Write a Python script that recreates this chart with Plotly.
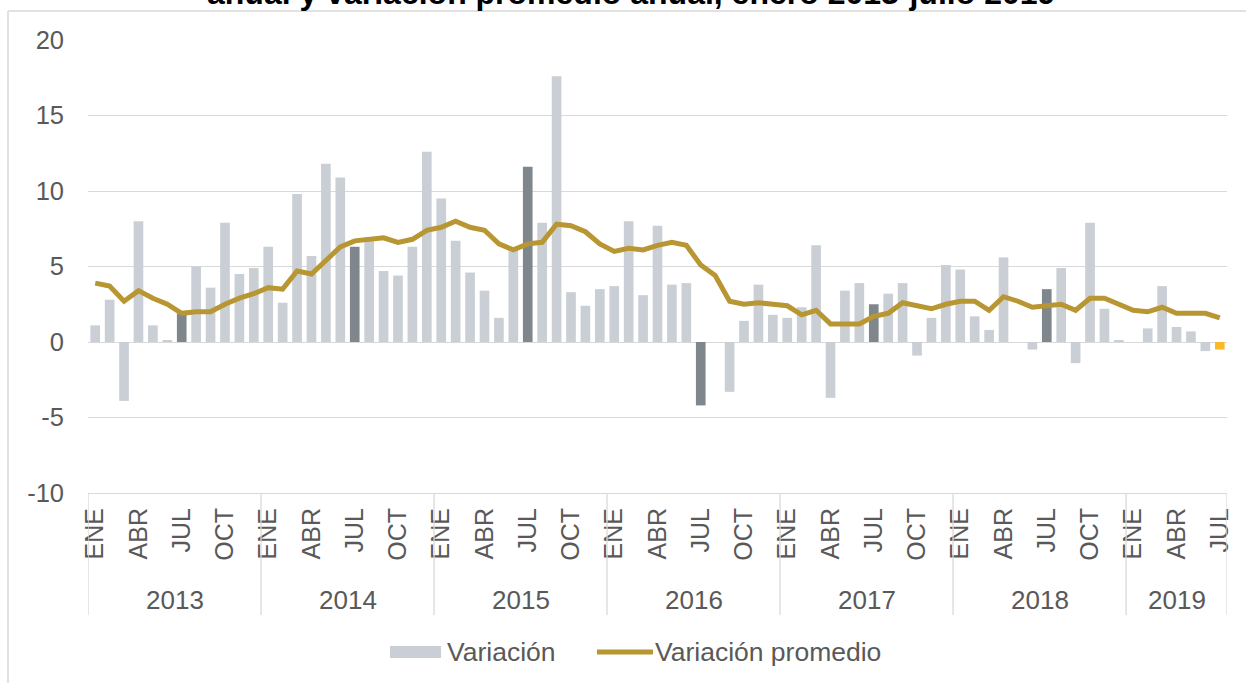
import plotly.graph_objects as go

# ---------------- data ----------------
years = ["2013", "2014", "2015", "2016", "2017", "2018", "2019"]
month_names = ["ENE", "FEB", "MAR", "ABR", "MAY", "JUN", "JUL", "AGO", "SEP", "OCT", "NOV", "DIC"]
months_per_year = [12, 12, 12, 12, 12, 12, 7]

variacion = [
    1.1, 2.8, -3.9, 8.0, 1.1, 0.1, 1.9, 5.0, 3.6, 7.9, 4.5, 4.9,      # 2013
    6.3, 2.6, 9.8, 5.7, 11.8, 10.9, 6.3, 6.7, 4.7, 4.4, 6.3, 12.6,    # 2014
    9.5, 6.7, 4.6, 3.4, 1.6, 6.1, 11.6, 7.9, 17.6, 3.3, 2.4, 3.5,     # 2015
    3.7, 8.0, 3.1, 7.7, 3.8, 3.9, -4.2, 0.0, -3.3, 1.4, 3.8, 1.8,     # 2016
    1.6, 2.3, 6.4, -3.7, 3.4, 3.9, 2.5, 3.2, 3.9, -0.9, 1.6, 5.1,     # 2017
    4.8, 1.7, 0.8, 5.6, 0.0, -0.5, 3.5, 4.9, -1.4, 7.9, 2.2, 0.1,     # 2018
    0.0, 0.9, 3.7, 1.0, 0.7, -0.6, -0.5,                              # 2019
]

variacion_promedio = [
    3.9, 3.7, 2.7, 3.4, 2.9, 2.5, 1.9, 2.0, 2.0, 2.5, 2.9, 3.2,
    3.6, 3.5, 4.7, 4.5, 5.4, 6.3, 6.7, 6.8, 6.9, 6.6, 6.8, 7.4,
    7.6, 8.0, 7.6, 7.4, 6.5, 6.1, 6.5, 6.6, 7.8, 7.7, 7.3, 6.5,
    6.0, 6.2, 6.1, 6.4, 6.6, 6.4, 5.1, 4.4, 2.7, 2.5, 2.6, 2.5,
    2.4, 1.8, 2.1, 1.2, 1.2, 1.2, 1.7, 1.9, 2.6, 2.4, 2.2, 2.5,
    2.7, 2.7, 2.1, 3.0, 2.7, 2.3, 2.4, 2.5, 2.1, 2.9, 2.9, 2.5,
    2.1, 2.0, 2.3, 1.9, 1.9, 1.9, 1.6,
]

y_tickvals = [-10, -5, 0, 5, 10, 15, 20]
y_ticktext = ["-10", "-5", "0", "5", "10", "15", "20"]
tick_months = ["ENE", "ABR", "JUL", "OCT"]
title_text = "anual y variación promedio anual, enero 2013-julio 2019"

# ---------------- derived ----------------
labels = []
for y, n in zip(years, months_per_year):
    for m in range(n):
        labels.append(month_names[m])
x = list(range(len(variacion)))

C_LIGHT = "#C9CFD5"
C_DARK = "#7F878D"
C_LAST = "#FBB928"
C_LINE = "#B89632"
C_TEXT = "#595959"
C_GRID = "#D9D9D9"
FONT = "Arial, Liberation Sans, sans-serif"

bar_colors = []
for i, lab in enumerate(labels):
    if i == len(labels) - 1:
        bar_colors.append(C_LAST)
    elif lab == "JUL":
        bar_colors.append(C_DARK)
    else:
        bar_colors.append(C_LIGHT)

tickvals = [i for i, lab in enumerate(labels) if lab in tick_months]
ticktext = [labels[i] for i in tickvals]

fig = go.Figure()
fig.add_trace(go.Bar(x=x, y=variacion, marker=dict(color=bar_colors, line=dict(width=0)),
                     name="Variación", showlegend=False))
fig.add_trace(go.Scatter(x=x, y=variacion_promedio, mode="lines",
                         line=dict(color=C_LINE, width=5),
                         name="Variación promedio", showlegend=False))

# plot area geometry (pixels)
W, H = 1246, 683
L, R, T, B = 88, 19, 40, 190
pw, ph = W - L - R, H - T - B


def px_x(p):
    return (p - L) / pw


def px_y(p):
    return (H - B - p) / ph


shapes = []
annotations = []

# year dividers and year labels
start = 0
bounds = [-0.5]
for y, n in zip(years, months_per_year):
    bounds.append(start + n - 0.5)
    annotations.append(dict(x=start + (n - 1) / 2, y=px_y(600), xref="x", yref="paper",
                            text=y, showarrow=False, font=dict(size=26, color=C_TEXT, family=FONT),
                            xanchor="center", yanchor="middle"))
    start += n
for b in bounds:
    shapes.append(dict(type="line", xref="x", yref="paper", x0=b, x1=b, y0=0, y1=px_y(615),
                       line=dict(color=C_GRID, width=1.3)))

# chart frame
shapes.append(dict(type="line", xref="paper", yref="paper", x0=px_x(8), x1=px_x(1250),
                   y0=px_y(11), y1=px_y(11), line=dict(color=C_GRID, width=1.5)))
shapes.append(dict(type="line", xref="paper", yref="paper", x0=px_x(8), x1=px_x(8),
                   y0=px_y(11), y1=px_y(690), line=dict(color=C_GRID, width=1.5)))

# manual legend
shapes.append(dict(type="rect", xref="paper", yref="paper", x0=px_x(390), x1=px_x(441),
                   y0=px_y(658), y1=px_y(646), fillcolor=C_LIGHT, line=dict(width=0)))
annotations.append(dict(x=px_x(445), y=px_y(652), xref="paper", yref="paper", text="Variación",
                        showarrow=False, xanchor="left", yanchor="middle",
                        font=dict(size=26.5, color=C_TEXT, family=FONT)))
shapes.append(dict(type="line", xref="paper", yref="paper", x0=px_x(597), x1=px_x(653),
                   y0=px_y(652), y1=px_y(652), line=dict(color=C_LINE, width=5)))
annotations.append(dict(x=px_x(653), y=px_y(652), xref="paper", yref="paper",
                        text="Variación promedio", showarrow=False, xanchor="left", yanchor="middle",
                        font=dict(size=26.5, color=C_TEXT, family=FONT)))

# title (partially cut at top, as in the source image)
annotations.append(dict(x=px_x(631), y=px_y(-7), xref="paper", yref="paper",
                        text="<b>" + title_text + "</b>", showarrow=False,
                        xanchor="center", yanchor="middle",
                        font=dict(size=32, color="#000000", family=FONT)))

fig.update_layout(
    width=W, height=H,
    margin=dict(l=L, r=R, t=T, b=B, pad=0),
    paper_bgcolor="white", plot_bgcolor="white",
    bargap=0.33,
    font=dict(family=FONT, color=C_TEXT, size=24),
    shapes=shapes, annotations=annotations,
    xaxis=dict(range=[-0.5, len(x) - 0.5], tickvals=tickvals, ticktext=ticktext, tickangle=-90,
               showgrid=False, zeroline=False, showline=True, linecolor=C_GRID, linewidth=1,
               ticks="", tickfont=dict(size=25, color=C_TEXT, family=FONT), ticklabelstandoff=4),
    yaxis=dict(range=[-10, 20], tickvals=y_tickvals, ticktext=y_ticktext, showgrid=True,
               gridcolor=C_GRID, gridwidth=1.3, zeroline=False, showline=False, ticks="",
               tickfont=dict(size=25.5, color=C_TEXT, family=FONT), ticklabelstandoff=23),
)

fig.write_html("out.html", config={"displayModeBar": False},
               post_script="document.body.style.margin='0';")
